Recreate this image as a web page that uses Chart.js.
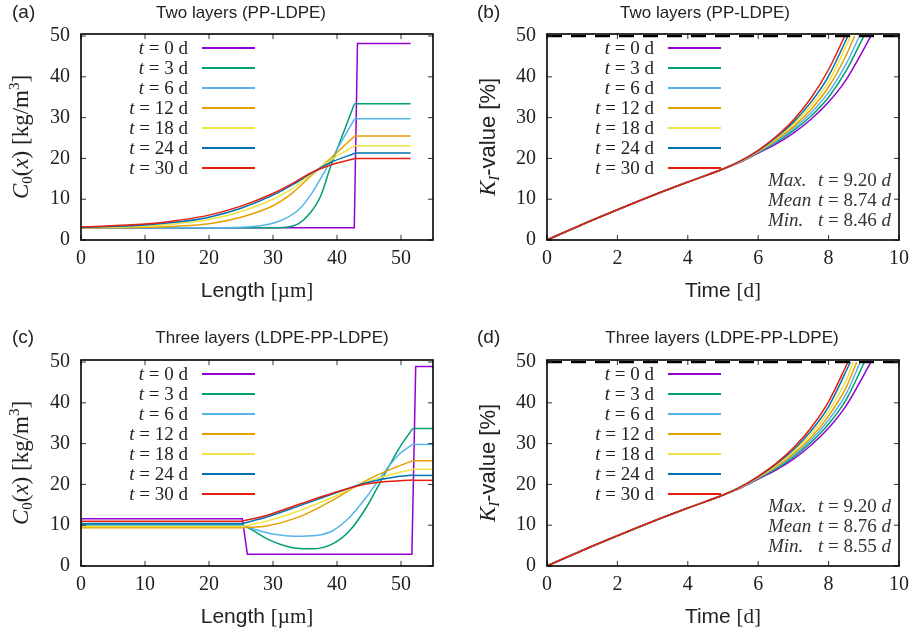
<!DOCTYPE html>
<html>
<head>
<meta charset="utf-8">
<script src="https://cdn.jsdelivr.net/npm/chart.js@4.4.0/dist/chart.umd.min.js"></script>
<style>
  body { margin: 0; background: #fff; }
  canvas { position: absolute; }
</style>
</head>
<body>
<canvas id="chartA" style="left:0;top:0;width:456px;height:317px" width="456" height="317"></canvas>
<canvas id="chartB" style="left:456px;top:0;width:456px;height:317px" width="456" height="317"></canvas>
<canvas id="chartC" style="left:0;top:317px;width:456px;height:318px" width="456" height="318"></canvas>
<canvas id="chartD" style="left:456px;top:317px;width:456px;height:318px" width="456" height="318"></canvas>
<script>
const SERIF = '"Liberation Serif", "DejaVu Serif", serif';
const SANS = '"Liberation Sans", Arial, sans-serif';

// storage ages (legend) and gnuplot colours
const ages = [0, 3, 6, 12, 18, 24, 30];
const lineColors = ['#9400d3', '#009e73', '#56b4e9', '#e69f00', '#f0e442', '#0072b2', '#e51e10'];

// (a) two layers: C0(x) profiles, x in µm
const twoLayer_t0 = [[0, 3.0], [42.7, 3.0], [43.2, 48.2], [51.5, 48.2]];
const twoLayer_t3 = [[0, 3.0], [30, 3.0], [32, 3.1], [34, 4.0], [35.8, 6.6], [37.4, 10.6], [39, 18.0], [41, 26.3], [42.7, 33.3]];
const twoLayer_t6 = [[0, 3.0], [20, 3.0], [25, 3.1], [28, 3.5], [30, 4.1], [32, 5.3], [34, 7.4], [36, 11.3], [38, 16.6], [40, 22.2], [42.7, 29.6]];
const twoLayer_t12 = [[0, 3.0], [10, 3.1], [15, 3.4], [20, 4.0], [25, 5.6], [30, 8.4], [33, 11.5], [36, 15.8], [39, 20.0], [42.7, 25.4]];
const twoLayer_t18 = [[0, 3.05], [10, 3.4], [15, 4.0], [20, 5.0], [25, 7.0], [30, 10.0], [33, 12.6], [36, 16.2], [39, 19.6], [42.7, 23.0]];
const twoLayer_t24 = [[0, 3.1], [10, 3.7], [15, 4.4], [20, 5.6], [25, 7.8], [30, 11.0], [33, 13.5], [36, 16.4], [39, 19.0], [42.7, 21.2]];
const twoLayer_t30 = [[0, 3.2], [10, 3.9], [15, 4.8], [20, 6.1], [25, 8.3], [30, 11.4], [33, 13.8], [36, 16.5], [39, 18.4], [42.7, 19.9]];
const twoLayerPlateau = [null, 33.4, 29.7, 25.5, 23.1, 21.3, 20.0];
const twoLayerEnd = 51.5;

// (c) three layers: C0(x) profiles
const threeLayer_t0 = [[0, 11.6], [25.2, 11.6], [26.0, 2.9], [51.7, 2.9], [52.3, 48.9], [55, 48.9]];
const threeLayer_t3 = [[25.2, 10.2], [27, 8.6], [29, 6.7], [32.7, 4.6], [36, 4.2], [39.4, 5.5], [42, 8.7], [44.6, 14.4], [47.2, 21.8], [49.8, 29.1], [51.8, 33.6]];
const threeLayer_t6 = [[25.2, 10.0], [28, 8.6], [30.5, 7.7], [33.2, 7.3], [36.8, 7.5], [39.4, 8.7], [42, 12.0], [44.6, 16.9], [47.2, 22.6], [49.8, 27.5], [51.8, 29.8]];
const threeLayer_t12 = [[25.2, 9.4], [29, 9.8], [34.2, 12.1], [39.4, 16.2], [44.6, 21.0], [49.8, 24.6], [51.8, 25.8]];
const threeLayer_t18 = [[25.2, 9.7], [29, 11.0], [34.2, 13.6], [39.4, 16.9], [44.6, 20.6], [49.8, 23.0], [51.8, 23.6]];
const threeLayer_t24 = [[25.2, 10.4], [29, 12.0], [34.2, 14.8], [39.4, 17.7], [44.6, 20.4], [49.8, 22.0], [51.8, 22.3]];
const threeLayer_t30 = [[25.2, 11.0], [29, 12.4], [34.2, 15.2], [39.4, 17.9], [44.6, 20.1], [49.8, 20.9], [51.8, 21.1]];
const threeLayerLeft = [null, 10.2, 10.0, 9.4, 9.7, 10.4, 11.0];
const threeLayerRight = [null, 33.7, 29.8, 25.8, 23.7, 22.2, 21.0];
const threeLayerEnd = 55;

// K_I-value over time (days); identical early part
const kEarly = [[0, 0], [1, 3.8], [2, 7.4], [3, 10.9], [4, 14.2], [5, 17.4]];
const kTwo_t0 = [[5.5, 19.1], [6, 21.3], [6.5, 23.5], [7, 26.2], [7.5, 29.6], [8, 33.8], [8.5, 39.3], [9, 46.8], [9.2, 50]];
const kTwo_t3 = [[5.5, 19.2], [6, 21.5], [6.5, 23.9], [7, 26.8], [7.5, 30.4], [8, 35.0], [8.5, 41.5], [9.0, 50]];
const kTwo_t6 = [[5.5, 19.2], [6, 21.6], [6.5, 24.2], [7, 27.3], [7.5, 31.2], [8, 36.2], [8.5, 43.2], [8.88, 50]];
const kTwo_t12 = [[5.5, 19.3], [6, 21.7], [6.5, 24.5], [7, 27.8], [7.5, 32.0], [8, 37.5], [8.5, 45.3], [8.74, 50]];
const kTwo_t18 = [[5.5, 19.3], [6, 21.8], [6.5, 24.8], [7, 28.4], [7.5, 32.9], [8, 38.8], [8.63, 50]];
const kTwo_t24 = [[5.5, 19.4], [6, 21.9], [6.5, 25.1], [7, 28.9], [7.5, 33.8], [8, 40.2], [8.55, 50]];
const kTwo_t30 = [[5.5, 19.4], [6, 22.0], [6.5, 25.3], [7, 29.4], [7.5, 34.8], [8, 41.8], [8.46, 50]];

const kThree_t0 = [[5.5, 19.1], [6, 21.3], [6.5, 23.5], [7, 26.2], [7.5, 29.6], [8, 33.8], [8.5, 39.3], [9, 46.8], [9.2, 50]];
const kThree_t3 = [[5.5, 19.2], [6, 21.5], [6.5, 23.8], [7, 26.7], [7.5, 30.3], [8, 34.8], [8.5, 40.8], [9.02, 50]];
const kThree_t6 = [[5.5, 19.2], [6, 21.6], [6.5, 24.1], [7, 27.1], [7.5, 30.9], [8, 35.8], [8.5, 42.2], [8.9, 50]];
const kThree_t12 = [[5.5, 19.3], [6, 21.7], [6.5, 24.3], [7, 27.5], [7.5, 31.5], [8, 36.8], [8.5, 43.8], [8.8, 50]];
const kThree_t18 = [[5.5, 19.3], [6, 21.8], [6.5, 24.6], [7, 28.0], [7.5, 32.3], [8, 37.9], [8.5, 45.6], [8.7, 50]];
const kThree_t24 = [[5.5, 19.4], [6, 21.9], [6.5, 24.9], [7, 28.5], [7.5, 33.1], [8, 39.1], [8.62, 50]];
const kThree_t30 = [[5.5, 19.4], [6, 22.0], [6.5, 25.1], [7, 29.0], [7.5, 33.9], [8, 40.3], [8.55, 50]];

const kThreshold = 50;
const statLabels = ['Max.', 'Mean', 'Min.'];
const statsTwo = [9.20, 8.74, 8.46];
const statsThree = [9.20, 8.76, 8.55];

function toXY(points) {
  return points.map(p => ({ x: p[0], y: p[1] }));
}

function lineSet(points, i, smooth) {
  return {
    data: toXY(points),
    borderColor: lineColors[i],
    borderWidth: 1.5,
    pointRadius: 0,
    fill: false,
    tension: 0,
    cubicInterpolationMode: smooth ? 'monotone' : 'default',
    order: 6 - i
  };
}

function richText(ctx, segs, x, y, align, rotated) {
  ctx.save();
  ctx.translate(x, y);
  if (rotated) ctx.rotate(-Math.PI / 2);
  let w = 0;
  segs.forEach(s => { ctx.font = s.f; w += ctx.measureText(s.t).width; });
  let cx = align === 'center' ? -w / 2 : align === 'right' ? -w : 0;
  ctx.textAlign = 'left';
  ctx.textBaseline = 'alphabetic';
  segs.forEach(s => {
    ctx.font = s.f;
    ctx.fillText(s.t, cx, s.dy || 0);
    cx += ctx.measureText(s.t).width;
  });
  ctx.restore();
}

function strokeLine(ctx, x1, y1, x2, y2) {
  ctx.beginPath();
  ctx.moveTo(x1, y1);
  ctx.lineTo(x2, y2);
  ctx.stroke();
}

const decoPlugin = {
  id: 'deco',
  afterDraw(chart, args, o) {
    const { ctx, chartArea: a, scales } = chart;
    ctx.save();
    // inward ticks on all four sides
    ctx.strokeStyle = '#333';
    ctx.lineWidth = 1;
    scales.x.ticks.forEach(t => {
      const px = scales.x.getPixelForValue(t.value);
      strokeLine(ctx, px, a.bottom, px, a.bottom - 5);
      strokeLine(ctx, px, a.top, px, a.top + 5);
    });
    scales.y.ticks.forEach(t => {
      const py = scales.y.getPixelForValue(t.value);
      strokeLine(ctx, a.left, py, a.left + 5, py);
      strokeLine(ctx, a.right, py, a.right - 5, py);
    });
    ctx.strokeStyle = '#000';
    ctx.lineWidth = 1.6;
    ctx.strokeRect(a.left, a.top, a.right - a.left, a.bottom - a.top);

    ctx.fillStyle = '#222';
    ctx.textBaseline = 'middle';
    ctx.textAlign = 'left';
    ctx.font = '19px ' + SANS;
    ctx.fillText(o.tag, o.tagX, o.headY);
    ctx.textAlign = 'center';
    ctx.font = '17px ' + SANS;
    ctx.fillText(o.title, o.titleX, o.headY);

    richText(ctx, o.xTitle, (a.left + a.right) / 2, a.bottom + 57, 'center', false);
    richText(ctx, o.yTitle, o.yTitleX, (a.top + a.bottom) / 2, 'center', true);

    // legend inside the plot
    ages.forEach((age, i) => {
      const yy = a.top + 14 + 20 * i;
      ctx.fillStyle = '#222';
      richText(ctx, [
        { t: 't', f: 'italic 19px ' + SERIF },
        { t: ' = ' + age + ' d', f: '19px ' + SERIF }
      ], a.left + 107, yy + 6, 'right', false);
      ctx.strokeStyle = lineColors[i];
      ctx.lineWidth = 2;
      strokeLine(ctx, a.left + 121, yy, a.left + 174, yy);
    });

    if (o.stats) {
      ctx.fillStyle = '#333';
      o.stats.forEach((v, i) => {
        const yy = a.bottom - 54 + 20 * i;
        richText(ctx, [{ t: statLabels[i], f: 'italic 19px ' + SERIF }], a.right - 131, yy, 'left', false);
        richText(ctx, [
          { t: 't', f: 'italic 19px ' + SERIF },
          { t: ' = ' + v.toFixed(2) + ' ', f: '19px ' + SERIF },
          { t: 'd', f: 'italic 19px ' + SERIF }
        ], a.right - 81, yy, 'left', false);
      });
    }
    ctx.restore();
  }
};

function makeScales(xMax, xStep, yWidth, xHeight) {
  const tickFont = { family: SERIF, size: 20 };
  return {
    x: {
      type: 'linear', min: 0, max: xMax,
      ticks: { stepSize: xStep, includeBounds: false, color: '#222', font: tickFont, padding: 7, maxRotation: 0, autoSkip: false },
      grid: { display: false, drawTicks: false },
      border: { display: false },
      afterFit(s) { s.height = xHeight; s.paddingLeft = 0; s.paddingRight = 0; }
    },
    y: {
      type: 'linear', min: 0, max: 50.5,
      ticks: { stepSize: 10, includeBounds: false, color: '#222', font: tickFont, padding: 11, autoSkip: false },
      grid: { display: false, drawTicks: false },
      border: { display: false },
      afterFit(s) { s.width = yWidth; s.paddingTop = 0; s.paddingBottom = 0; }
    }
  };
}

function makeChart(id, datasets, scales, padding, deco) {
  return new Chart(document.getElementById(id), {
    type: 'line',
    data: { datasets: datasets },
    options: {
      responsive: false,
      animation: false,
      layout: { padding: padding },
      scales: scales,
      plugins: { legend: { display: false }, tooltip: { enabled: false }, deco: deco }
    },
    plugins: [decoPlugin]
  });
}

// (a)
const twoLayerCurves = [twoLayer_t3, twoLayer_t6, twoLayer_t12, twoLayer_t18, twoLayer_t24, twoLayer_t30];
const dsA = [lineSet(twoLayer_t0, 0, false)];
twoLayerCurves.forEach((c, k) => {
  const i = k + 1;
  dsA.push(lineSet(c, i, true));
  dsA.push(lineSet([[c[c.length - 1][0], twoLayerPlateau[i]], [twoLayerEnd, twoLayerPlateau[i]]], i, false));
});

// (c)
const threeLayerCurves = [threeLayer_t3, threeLayer_t6, threeLayer_t12, threeLayer_t18, threeLayer_t24, threeLayer_t30];
const dsC = [lineSet(threeLayer_t0, 0, false)];
threeLayerCurves.forEach((c, k) => {
  const i = k + 1;
  dsC.push(lineSet([[0, threeLayerLeft[i]], [c[0][0], threeLayerLeft[i]]], i, false));
  dsC.push(lineSet(c, i, true));
  dsC.push(lineSet([[c[c.length - 1][0], threeLayerRight[i]], [threeLayerEnd, threeLayerRight[i]]], i, false));
});

// (b), (d)
function kSets(tails) {
  const sets = tails.map((tail, i) => lineSet(kEarly.concat(tail), i, true));
  sets.push({
    data: toXY([[0, kThreshold], [10, kThreshold]]),
    borderColor: '#000', borderWidth: 2.2, borderDash: [15, 9],
    pointRadius: 0, fill: false, order: -1
  });
  return sets;
}
const dsB = kSets([kTwo_t0, kTwo_t3, kTwo_t6, kTwo_t12, kTwo_t18, kTwo_t24, kTwo_t30]);
const dsD = kSets([kThree_t0, kThree_t3, kThree_t6, kThree_t12, kThree_t18, kThree_t24, kThree_t30]);

const cTitle = [
  { t: 'C', f: 'italic 23px ' + SERIF },
  { t: '0', f: '15px ' + SERIF, dy: 4 },
  { t: '(', f: '23px ' + SERIF },
  { t: 'x', f: 'italic 23px ' + SERIF },
  { t: ') [kg/m', f: '23px ' + SERIF },
  { t: '3', f: '15px ' + SERIF, dy: -9 },
  { t: ']', f: '23px ' + SERIF }
];
const kTitle = [
  { t: 'K', f: 'italic 23px ' + SERIF },
  { t: 'I', f: 'italic 15px ' + SERIF, dy: 4 },
  { t: '-value [%]', f: '22px ' + SANS }
];
const lengthTitle = [{ t: 'Length ', f: '21px ' + SANS }, { t: '[µm]', f: '21px ' + SERIF }];
const timeTitle = [{ t: 'Time ', f: '21px ' + SANS }, { t: '[d]', f: '21px ' + SERIF }];

makeChart('chartA', dsA, makeScales(55, 10, 81, 77), { left: 0, top: 34, right: 23, bottom: 0 },
  { tag: '(a)', tagX: 12, headY: 13, title: 'Two layers (PP-LDPE)', titleX: 241, xTitle: lengthTitle, yTitle: cTitle, yTitleX: 28 });
makeChart('chartB', dsB, makeScales(10, 2, 91, 77), { left: 0, top: 34, right: 13, bottom: 0 },
  { tag: '(b)', tagX: 21, headY: 13, title: 'Two layers (PP-LDPE)', titleX: 249, xTitle: timeTitle, yTitle: kTitle, yTitleX: 39, stats: statsTwo });
makeChart('chartC', dsC, makeScales(55, 10, 81, 69), { left: 0, top: 43, right: 23, bottom: 0 },
  { tag: '(c)', tagX: 12, headY: 21, title: 'Three layers (LDPE-PP-LDPE)', titleX: 272, xTitle: lengthTitle, yTitle: cTitle, yTitleX: 28 });
makeChart('chartD', dsD, makeScales(10, 2, 91, 69), { left: 0, top: 43, right: 13, bottom: 0 },
  { tag: '(d)', tagX: 21, headY: 21, title: 'Three layers (LDPE-PP-LDPE)', titleX: 266, xTitle: timeTitle, yTitle: kTitle, yTitleX: 39, stats: statsThree });
</script>
</body>
</html>
